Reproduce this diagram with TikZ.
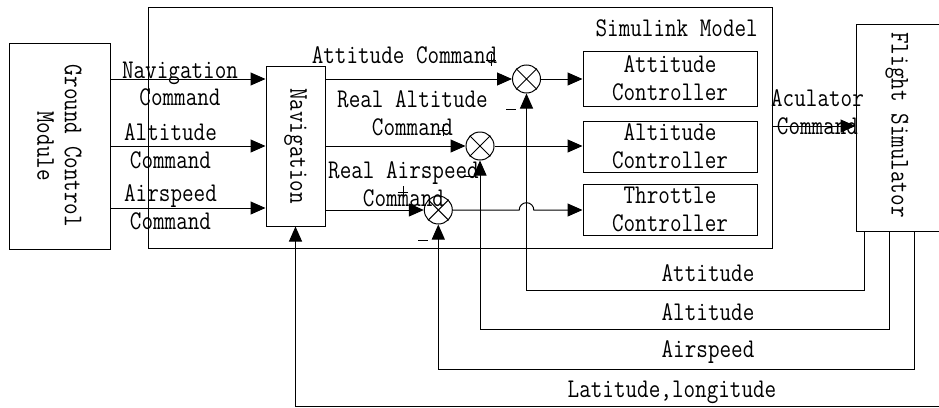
\documentclass[tikz,border=0pt]{standalone}
\usetikzlibrary{arrows.meta}
\begin{document}
\begin{tikzpicture}[x=1pt,y=-1pt,
  every node/.style={font=\fontsize{22.5}{23}\selectfont\ttfamily},
  blk/.style={draw, line width=1pt, inner sep=0pt},
  txt/.style={inner sep=0pt, align=center, yscale=1.2},
  vtxt/.style={inner sep=0pt, align=center, rotate=-90, yscale=1.2},
  line/.style={line width=1pt},
  arr/.style={line width=1pt, -{Triangle[length=15pt,width=13pt]}},
  sum/.style={draw, circle, line width=1pt, minimum size=28pt, inner sep=0pt},
  sign/.style={line width=0.8pt},
]
\fill[white] (0,0) rectangle (939,407);
\clip (0,0) rectangle (939,407);

% outer blocks
\node[blk, minimum width=101pt, minimum height=206pt] (gcm) at (59.5,146) {};
\node[vtxt] at (gcm.center) {Ground Control\\Module};
\node[blk, minimum width=624pt, minimum height=241pt] (sim) at (460,127.5) {};
\node[txt, anchor=east] at (758,28) {Simulink Model};
\node[blk, minimum width=90pt, minimum height=207pt] (fs) at (901,127.5) {};
\node[vtxt] at (897,125) {Flight Simulator};

% navigation block
\node[blk, minimum width=59pt, minimum height=160pt] (nav) at (295.5,146) {};
\node[vtxt] at (nav.center) {Navigation};

% controllers
\node[blk, minimum width=174pt, minimum height=55pt] (att) at (670,78.5) {};
\node[blk, minimum width=174pt, minimum height=51pt] (alt) at (670,146.5) {};
\node[blk, minimum width=174pt, minimum height=51pt] (thr) at (670,209.5) {};
\node[txt] at (att.center) {Attitude\\Controller};
\node[txt] at (alt.center) {Altitude\\Controller};
\node[txt] at (thr.center) {Throttle\\Controller};

% summing junctions
\node[sum] (s1) at (526.5,79) {};
\node[sum] (s2) at (480,146) {};
\node[sum] (s3) at (438.3,210) {};
\foreach \s in {s1,s2,s3}
  \draw[line] (\s.north west) -- (\s.south east) (\s.north east) -- (\s.south west);

% commands from the ground station
\draw[arr] (gcm.east |- 0,79) -- (nav.west |- 0,79);
\draw[arr] (gcm.east |- 0,146) -- (nav.west |- 0,146);
\draw[arr] (gcm.east |- 0,208) -- (nav.west |- 0,208);
\node[txt] at (180,84) {Navigation\\Command};
\node[txt] at (170.5,146) {Altitude\\Command};
\node[txt] at (170.5,207.5) {Airspeed\\Command};

% navigation outputs to the junctions
\draw[arr] (nav.east |- s1) -- (s1.west);
\draw[arr] (nav.east |- s2) -- (s2.west);
\draw[arr] (nav.east |- s3) -- (s3.west);
\node[txt] at (404.5,55) {Attitude Command};
\node[txt] at (412.5,113.5) {Real Altitude\\Command};
\node[txt] at (403.5,184) {Real Airspeed\\Command};

% junction signs
\draw[sign] (486,60) -- (496,60) (491,54) -- (491,66);
\draw[sign] (506,109) -- (516,109);
\draw[sign] (438,130) -- (448,130) (443,124) -- (443,136);
\draw[sign] (463,176) -- (474,176);
\draw[sign] (398,192) -- (408,192) (403,186) -- (403,198);
\draw[sign] (418,240) -- (428,240);

% errors into the controllers
\draw[arr] (s1.east) -- (att.west |- s1);
\draw[arr] (s2.east) -- (alt.west |- s2);
\draw[arr] (s3.east) -- (519.2,210) arc[start angle=180, end angle=0, radius=7.3pt] -- (thr.west |- s3);

% actuator command
\draw[arr] (sim.east |- 0,126) -- (fs.west |- 0,126);
\node[txt] at (817.5,112.5) {Aculator\\Command};

% feedback from the flight simulator
\draw[arr] (fs.south -| 864,0) |- (s1 |- 0,290) -- (s1.south);
\draw[arr] (fs.south -| 889,0) |- (s2 |- 0,329) -- (s2.south);
\draw[arr] (fs.south -| 914,0) |- (s3 |- 0,369) -- (s3.south);
\draw[arr] (fs.south -| 942,0) |- (nav |- 0,406) -- (nav.south);
\node[txt] at (708,273) {Attitude};
\node[txt] at (708,312) {Altitude};
\node[txt] at (708,352) {Airspeed};
\node[txt] at (672,392) {Latitude,longitude};
\end{tikzpicture}
\end{document}
